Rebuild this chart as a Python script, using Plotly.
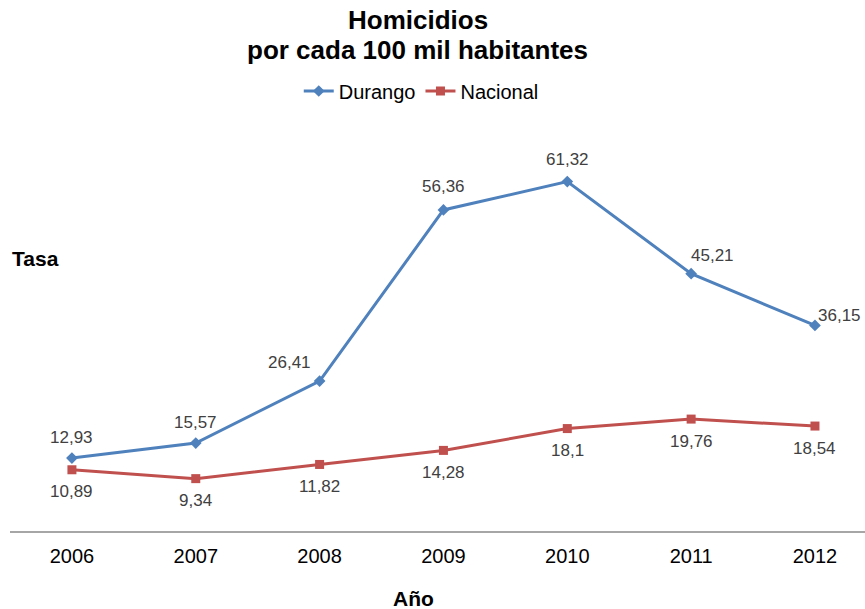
import plotly.graph_objects as go

# Homicide rates per 100k inhabitants
years = [2006, 2007, 2008, 2009, 2010, 2011, 2012]
durango = [12.93, 15.57, 26.41, 56.36, 61.32, 45.21, 36.15]
nacional = [10.89, 9.34, 11.82, 14.28, 18.1, 19.76, 18.54]

BLUE = "#4F81BD"
RED = "#C0504D"
FONT = "Liberation Sans, Arial, sans-serif"


def fmt(v):
    return str(v).replace(".", ",")


fig = go.Figure()
fig.add_trace(go.Scatter(
    x=years, y=durango, name="Durango", mode="lines+markers",
    line=dict(color=BLUE, width=3),
    marker=dict(symbol="diamond", size=9, color=BLUE),
))
fig.add_trace(go.Scatter(
    x=years, y=nacional, name="Nacional", mode="lines+markers",
    line=dict(color=RED, width=3),
    marker=dict(symbol="square", size=9, color=RED),
))

# data labels: Durango above (with a few offsets), Nacional below
d_shift = [(0, 21), (0, 21), (-30, 19), (0, 23), (0, 22), (21, 18), (25, 10)]
label_font = dict(family=FONT, size=17, color="#404040")
annotations = []
for x, v, (dx, dy) in zip(years, durango, d_shift):
    annotations.append(dict(x=x, y=v, text=fmt(v), showarrow=False,
                            xshift=dx, yshift=dy, font=label_font))
for x, v in zip(years, nacional):
    annotations.append(dict(x=x, y=v, text=fmt(v), showarrow=False,
                            yshift=-22, font=label_font))

title_font = dict(family=FONT, size=26, color="#000000")
annotations += [
    dict(text="<b>Homicidios</b>", xref="paper", yref="paper",
         x=0.477, y=1.28, xanchor="center", yanchor="middle",
         showarrow=False, font=title_font),
    dict(text="<b>por cada 100 mil habitantes</b>", xref="paper",
         yref="paper", x=0.477, y=1.205, xanchor="center",
         yanchor="middle", showarrow=False, font=title_font),
    dict(text="<b>Tasa</b>", xref="paper", yref="paper", x=0.0, y=0.685,
         xanchor="left", yanchor="middle", showarrow=False,
         font=dict(family=FONT, size=21, color="#000000")),
    dict(text="<b>Año</b>", xref="paper", yref="paper", x=0.4725, y=-0.165,
         xanchor="center", yanchor="middle", showarrow=False,
         font=dict(family=FONT, size=21, color="#000000")),
]

fig.update_layout(
    width=865, height=609,
    margin=dict(l=10, r=0, t=132, b=77),
    paper_bgcolor="white", plot_bgcolor="white",
    showlegend=True,
    legend=dict(orientation="h", x=0.481, y=1.1025, xanchor="center",
                yanchor="middle", font=dict(family=FONT, size=20, color="#000"),
                itemwidth=30, tracegroupgap=0),
    annotations=annotations,
    xaxis=dict(range=[2005.5, 2012.404], tickmode="array", tickvals=years,
               ticktext=[str(y) for y in years], showgrid=False,
               zeroline=False, showline=False, ticks="",
               ticklabelstandoff=10,
               tickfont=dict(family=FONT, size=20, color="#000")),
    yaxis=dict(range=[0, 70], visible=True, showticklabels=False,
               showgrid=False, zeroline=True, zerolinecolor="#A6A6A6",
               zerolinewidth=2, showline=False, ticks=""),
)

fig.write_html("out.html")
